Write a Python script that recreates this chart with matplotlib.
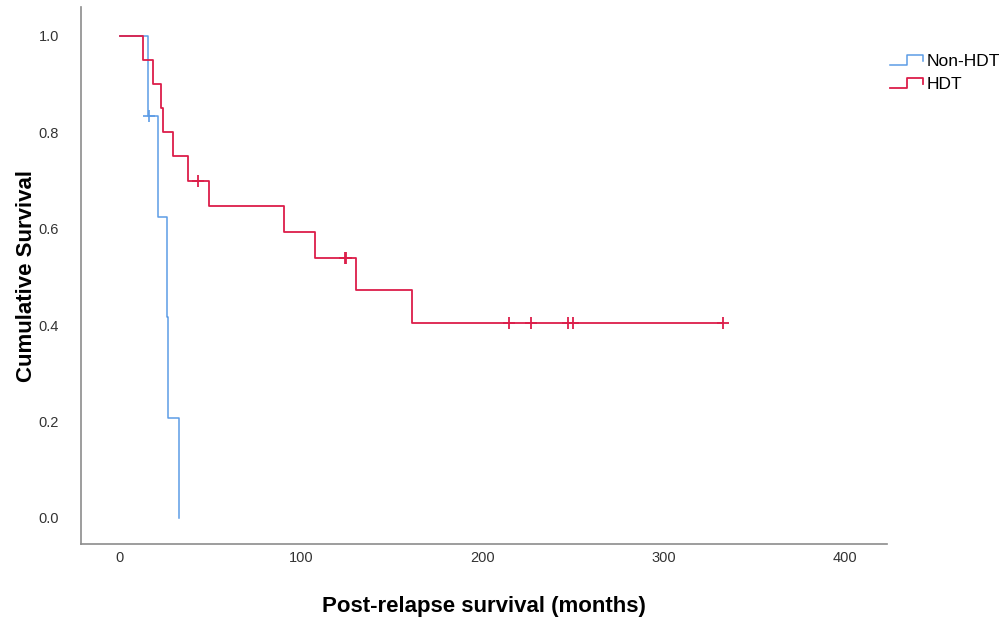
import matplotlib
matplotlib.use("Agg")
import matplotlib.pyplot as plt
import numpy as np
from matplotlib.legend_handler import HandlerBase
from matplotlib.lines import Line2D

plt.rcParams["font.family"] = ["Liberation Sans", "DejaVu Sans"]

# Kaplan-Meier steps (months, cumulative survival)
NON_HDT_T = [0, 15.4, 21.1, 25.8, 26.3, 32.7]
NON_HDT_S = [1.0, 0.833, 0.625, 0.417, 0.208, 0.0]
NON_HDT_CENS = [16.0]

HDT_T = [0, 12.5, 18.0, 22.6, 23.9, 29.0, 37.7, 49.1, 90.5, 107.8, 130.0, 160.8]
HDT_S = [1.0, 0.95, 0.90, 0.85, 0.80, 0.75, 0.70, 0.647, 0.593, 0.539, 0.472, 0.404]
HDT_END = 332.5
HDT_CENS = [43.0, 124.0, 124.8, 214.6, 226.8, 247.0, 249.6, 332.5]

BLUE = "#5C9CE6"
RED = "#DC1E4A"

X_TICKS = [0, 100, 200, 300, 400]
Y_TICKS = [0.0, 0.2, 0.4, 0.6, 0.8, 1.0]


def surv_at(times, surv, t):
    i = np.searchsorted(times, t, side="right") - 1
    return surv[i]


class StepHandler(HandlerBase):
    def create_artists(self, legend, orig_handle, xdescent, ydescent,
                       width, height, fontsize, trans):
        x0, y0 = -xdescent, -ydescent
        xs = [x0, x0 + 0.5 * width, x0 + 0.5 * width, x0 + width, x0 + width]
        ys = [y0 + 0.1 * height, y0 + 0.1 * height, y0 + 0.9 * height,
              y0 + 0.9 * height, y0 + 0.4 * height]
        ln = Line2D(xs, ys, color=orig_handle.get_color(),
                    lw=orig_handle.get_linewidth(), transform=trans)
        return [ln]


fig = plt.figure(figsize=(10.06, 6.18), dpi=100)
ax = fig.add_axes([0.0805, 0.1197, 0.8012, 0.869])

# Non-HDT
ax.step(NON_HDT_T, NON_HDT_S, where="post", color=BLUE, lw=1.1, zorder=2)
ax.plot(NON_HDT_CENS, [surv_at(NON_HDT_T, NON_HDT_S, t) for t in NON_HDT_CENS],
        ls="none", marker="+", ms=8, mew=1.2, color=BLUE, zorder=2)

# HDT
ax.step(HDT_T + [HDT_END], HDT_S + [HDT_S[-1]], where="post",
        color=RED, lw=1.3, zorder=3)
ax.plot(HDT_CENS, [surv_at(HDT_T, HDT_S, t) for t in HDT_CENS],
        ls="none", marker="+", ms=8, mew=1.3, color=RED, zorder=3)

ax.set_xlim(-21.5, 423)
ax.set_ylim(-0.054, 1.06)
ax.set_xticks(X_TICKS)
ax.set_xticklabels([str(v) for v in X_TICKS])
ax.set_yticks(Y_TICKS)
ax.set_yticklabels([f"{v:.1f}" for v in Y_TICKS])
ax.tick_params(axis="both", length=0, labelsize=10.5, colors="#333333")
ax.tick_params(axis="y", pad=16)
ax.tick_params(axis="x", pad=5)
for s in ["top", "right"]:
    ax.spines[s].set_visible(False)
for s in ["left", "bottom"]:
    ax.spines[s].set_color("#8c8c8c")
    ax.spines[s].set_linewidth(1.2)

ax.set_xlabel("Post-relapse survival (months)", fontsize=16,
              fontweight="bold", labelpad=22)
ax.set_ylabel("Cumulative Survival", fontsize=16, fontweight="bold",
              labelpad=1)

h1 = Line2D([], [], color=BLUE, lw=1.1)
h2 = Line2D([], [], color=RED, lw=1.3)
fig.legend([h1, h2], ["Non-HDT", "HDT"], loc="upper left",
           bbox_to_anchor=(0.8847, 0.913), frameon=False, fontsize=12.5,
           handler_map={Line2D: StepHandler()}, handlelength=1.9,
           handletextpad=0.2, labelspacing=0.45, borderaxespad=0,
           borderpad=0)

fig.savefig("out.png", dpi=100)
